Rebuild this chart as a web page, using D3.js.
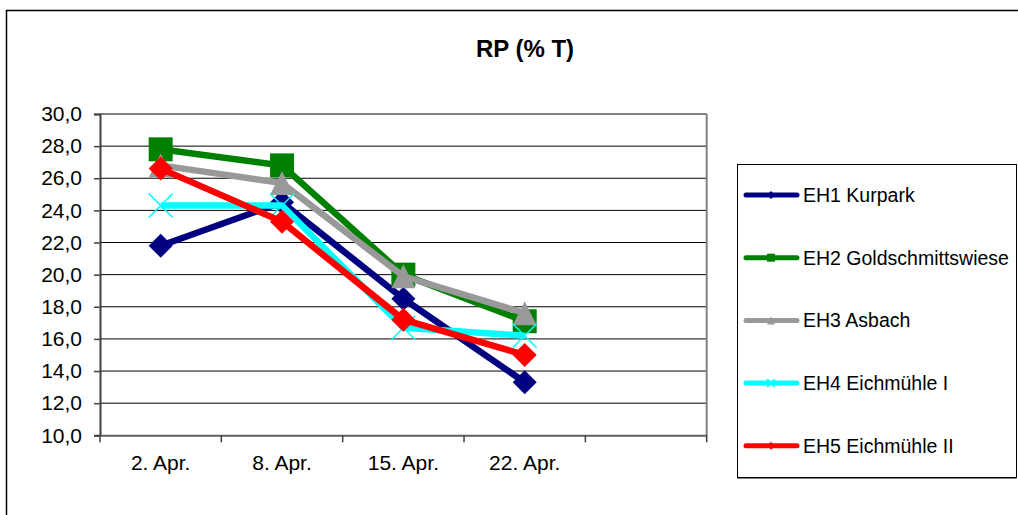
<!DOCTYPE html>
<html>
<head>
<meta charset="utf-8">
<script src="https://cdn.jsdelivr.net/npm/d3@7"></script>
<style>
  body { margin: 0; background: #fff; }
  text { font-family: "Liberation Sans", Arial, sans-serif; fill: #000; }
</style>
</head>
<body>
<div id="chart"></div>
<script>
// categories (last slot is empty, as in the original sheet)
var categories = ["2. Apr.", "8. Apr.", "15. Apr.", "22. Apr.", ""];
var yTicks = [10, 12, 14, 16, 18, 20, 22, 24, 26, 28, 30];

// series values
var eh1 = [21.8, 24.5, 18.5, 13.3];
var eh2 = [27.8, 26.8, 20.0, 17.1];
var eh3 = [26.8, 25.7, 19.9, 17.6];
var eh4 = [24.3, 24.3, 16.7, 16.2];
var eh5 = [26.6, 23.3, 17.2, 15.0];

var seriesNames = ["EH1 Kurpark", "EH2 Goldschmittswiese", "EH3 Asbach", "EH4 Eichmühle I", "EH5 Eichmühle II"];

var series = [
  {name: seriesNames[0], values: eh1, color: "#000080", marker: "diamond"},
  {name: seriesNames[1], values: eh2, color: "#008000", marker: "square"},
  {name: seriesNames[2], values: eh3, color: "#999999", marker: "triangle"},
  {name: seriesNames[3], values: eh4, color: "#00ffff", marker: "cross"},
  {name: seriesNames[4], values: eh5, color: "#ff0000", marker: "diamond"}
];

var W = 1018, H = 515;
var plot = {left: 100, top: 114, right: 706.7, bottom: 435.3};

var svg = d3.select("#chart").append("svg")
    .attr("width", W)
    .attr("height", H);

// outer frame
svg.append("rect")
    .attr("x", 6.5).attr("y", 10.5)
    .attr("width", W + 20).attr("height", H + 20)
    .attr("fill", "none")
    .attr("stroke", "#000")
    .attr("stroke-width", 1.5);

var x = d3.scaleBand().domain(categories).range([plot.left, plot.right]);
var y = d3.scaleLinear().domain([10, 30]).range([plot.bottom, plot.top]);

// horizontal gridlines
svg.append("g")
  .selectAll("line")
  .data(yTicks.filter(function(d) { return d > 10 && d < 30; }))
  .enter().append("line")
    .attr("x1", plot.left).attr("x2", plot.right)
    .attr("y1", function(d) { return y(d); })
    .attr("y2", function(d) { return y(d); })
    .attr("stroke", "#000")
    .attr("stroke-width", 1);

// plot border top / right
svg.append("line")
    .attr("x1", plot.left).attr("x2", plot.right)
    .attr("y1", y(30)).attr("y2", y(30))
    .attr("stroke", "#808080").attr("stroke-width", 2);
svg.append("line")
    .attr("x1", plot.right).attr("x2", plot.right)
    .attr("y1", y(30)).attr("y2", y(10))
    .attr("stroke", "#808080").attr("stroke-width", 2);

// y axis
var yAxis = svg.append("g")
    .attr("transform", "translate(" + plot.left + ",0)")
    .call(d3.axisLeft(y).tickValues(yTicks).tickSize(6).tickPadding(12)
      .tickFormat(function(d) { return d3.format(".1f")(d).replace(".", ","); }));
yAxis.select(".domain").attr("stroke", "#404040").attr("stroke-width", 2);
yAxis.selectAll(".tick line").attr("stroke", "#404040").attr("stroke-width", 1.5);
yAxis.selectAll("text")
    .style("font-family", "Liberation Sans, Arial, sans-serif")
    .style("font-size", "21px")
    .attr("fill", "#000");

// x axis (labels at band centres, ticks at band edges)
var xAxis = svg.append("g")
    .attr("transform", "translate(0," + plot.bottom + ")")
    .call(d3.axisBottom(x).tickSize(0).tickPadding(20).tickSizeOuter(0));
xAxis.select(".domain").attr("stroke", "#606060").attr("stroke-width", 2);
xAxis.selectAll("text")
    .style("font-family", "Liberation Sans, Arial, sans-serif")
    .style("font-size", "21px")
    .attr("fill", "#000");

var edges = categories.map(function(c) { return x(c); }).concat([x(categories[categories.length - 1]) + x.bandwidth()]);
svg.append("g")
  .selectAll("line")
  .data(edges)
  .enter().append("line")
    .attr("x1", function(d) { return d; })
    .attr("x2", function(d) { return d; })
    .attr("y1", plot.bottom)
    .attr("y2", plot.bottom + 7)
    .attr("stroke", "#404040")
    .attr("stroke-width", 1.5);

// title
svg.append("text")
    .attr("x", 525).attr("y", 57)
    .attr("text-anchor", "middle")
    .style("font-size", "24px")
    .style("font-weight", "bold")
    .text("RP (% T)");

function cx(i) { return x(categories[i]) + x.bandwidth() / 2; }

function drawMarker(g, type, color, px, py, s) {
  if (type === "diamond") {
    g.append("path")
        .attr("d", "M" + px + "," + (py - s) + "L" + (px + s) + "," + py + "L" + px + "," + (py + s) + "L" + (px - s) + "," + py + "Z")
        .attr("fill", color);
  } else if (type === "square") {
    g.append("rect")
        .attr("x", px - s).attr("y", py - s)
        .attr("width", 2 * s).attr("height", 2 * s)
        .attr("fill", color);
  } else if (type === "triangle") {
    g.append("path")
        .attr("d", "M" + px + "," + (py - s) + "L" + (px + s) + "," + (py + s) + "L" + (px - s) + "," + (py + s) + "Z")
        .attr("fill", color);
  } else if (type === "cross") {
    g.append("path")
        .attr("d", "M" + (px - s) + "," + (py - s) + "L" + (px + s) + "," + (py + s) + "M" + (px + s) + "," + (py - s) + "L" + (px - s) + "," + (py + s))
        .attr("stroke", color)
        .attr("stroke-width", 1.5)
        .attr("fill", "none");
  }
}

var line = d3.line()
    .x(function(d, i) { return cx(i); })
    .y(function(d) { return y(d); });

var markerSize = {diamond: 12, square: 12, triangle: 12, cross: 12};

series.forEach(function(s) {
  var g = svg.append("g");
  g.append("path")
      .datum(s.values)
      .attr("d", line)
      .attr("fill", "none")
      .attr("stroke", s.color)
      .attr("stroke-width", 6.5)
      .attr("stroke-linejoin", "round");
  s.values.forEach(function(v, i) {
    drawMarker(g, s.marker, s.color, cx(i), y(v), markerSize[s.marker]);
  });
});

// legend
var lg = svg.append("g");
lg.append("line")
    .attr("x1", 737.5).attr("x2", 1016.5)
    .attr("y1", 478).attr("y2", 478)
    .attr("stroke", "#808080").attr("stroke-width", 2);
lg.append("rect")
    .attr("x", 737.5).attr("y", 164.5)
    .attr("width", 279).attr("height", 313)
    .attr("fill", "#fff")
    .attr("stroke", "#000")
    .attr("stroke-width", 1);

series.forEach(function(s, i) {
  var ly = 195 + i * 62.7;
  lg.append("line")
      .attr("x1", 746).attr("x2", 797)
      .attr("y1", ly).attr("y2", ly)
      .attr("stroke", s.color)
      .attr("stroke-width", 5)
      .attr("stroke-linecap", "round");
  drawMarker(lg, s.marker, s.color, 771, ly, 4);
  lg.append("text")
      .attr("x", 803).attr("y", ly)
      .attr("dy", "0.35em")
      .style("font-size", "19.5px")
      .text(s.name);
});
</script>
</body>
</html>
